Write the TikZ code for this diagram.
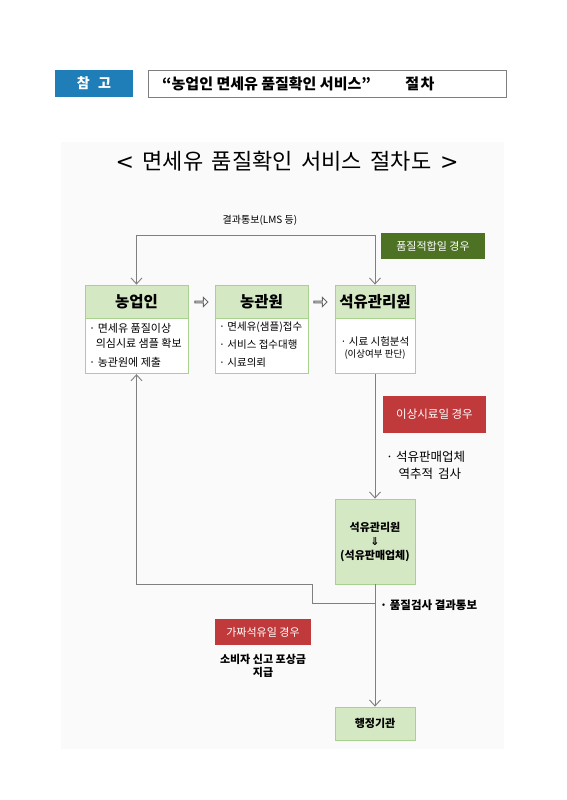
\documentclass[tikz,border=0pt]{standalone}
\usepackage{fontspec}
\setmainfont{Noto Sans CJK KR}
\newfontfamily\djvfont{DejaVu Sans}
\usetikzlibrary{arrows.meta,shapes.arrows}
\definecolor{lgreen}{HTML}{D5E8C4}
\definecolor{bgreen}{HTML}{A9D18E}
\definecolor{dgreen}{HTML}{4E7224}
\definecolor{rred}{HTML}{C0393B}
\definecolor{bblue}{HTML}{1F7DB8}
\definecolor{lgray}{HTML}{7F7F7F}
\definecolor{panelbg}{HTML}{FAFAFA}
\tikzset{
  hdr/.style={draw=bgreen,fill=lgreen,line width=0.8pt,minimum height=33pt,inner sep=0pt,font=\fontsize{15.5}{17}\selectfont\bfseries},
  bodybox/.style={draw=bgreen,fill=white,line width=0.8pt,minimum height=55pt,inner sep=0pt},
  gbox/.style={draw=bgreen,fill=lgreen,line width=0.8pt,inner sep=0pt,font=\fontsize{11}{13}\selectfont\bfseries,align=center},
  tagbox/.style={inner sep=0pt,text=white,font=\fontsize{11}{12}\selectfont},
  wline/.style={draw=lgray,line width=0.9pt},
  arr/.style={wline,-{Straight Barb[length=6pt,width=11pt,line width=0.9pt]}},
  harrow/.style={single arrow,draw=lgray!80!black,line width=0.9pt,fill=white,minimum height=13pt,minimum width=9pt,single arrow head extend=2pt,inner sep=0pt},
  small/.style={font=\fontsize{10.5}{15}\selectfont,align=left,inner sep=0pt}
}
\begin{document}
\begin{tikzpicture}[x=1pt,y=-1pt]
\useasboundingbox (0,0) rectangle (566,800);
\fill[white] (0,0) rectangle (566,800);
% header
\node[fill=bblue,minimum width=78pt,minimum height=27pt,inner sep=0pt,text=white,font=\fontsize{14}{16}\selectfont\bfseries] (cham) at (94,83.5) {참\hspace{0.6em}고};
\node[draw=lgray,line width=0.8pt,minimum width=358pt,minimum height=27pt,inner sep=0pt] (ttlbox) at (327,83.5) {};
\node[anchor=west,inner sep=0pt,font=\fontsize{15}{16}\selectfont\bfseries] (ttl) at (162,83.5) {“농업인 면세유 품질확인 서비스”\hspace{2.3em}절\hspace{0.1em}차};
% panel
\fill[panelbg] (61,142) rectangle (504,749);
\node[font=\fontsize{22}{24}\selectfont,inner sep=0pt] (mt) at (287,161) {{\djvfont <}\, 면세유\, 품질확인\, 서비스\, 절차도 \,{\djvfont >}};
\node[font=\fontsize{10}{11}\selectfont,inner sep=0pt] (lms) at (260,220) {결과통보(LMS 등)};
\node[tagbox,fill=dgreen,minimum width=104pt,minimum height=26pt] (ok) at (433,246) {품질적합일 경우};
% row boxes
\node[hdr,minimum width=103pt] (fh) at (136.5,301.5) {농업인};
\node[bodybox,minimum width=103pt,anchor=north] (fb) at (fh.south) {};
\node[hdr,minimum width=93pt] (nh) at (261.5,301.5) {농관원};
\node[bodybox,minimum width=93pt,anchor=north] (nb) at (nh.south) {};
\node[hdr,minimum width=80pt] (kh) at (375,301.5) {석유관리원};
\node[bodybox,minimum width=80pt,anchor=north] (kb) at (kh.south) {};
\node[small,anchor=north west,font=\fontsize{11}{15.5}\selectfont] (ft) at (89,323) {· 면세유 품질이상\\\hspace{0.6em}의심시료 샘플 확보\\[3pt]· 농관원에 제출};
\node[small,anchor=north west,font=\fontsize{10.5}{18}\selectfont] (nt) at (219,322) {· 면세유(샘플)접수\\· 서비스 접수대행\\· 시료의뢰};
\node[small,anchor=center,align=center,font=\fontsize{10.5}{12.5}\selectfont] (kt) at (375,348) {· 시료 시험분석\\{\fontsize{9.5}{12}\selectfont(이상여부 판단)}};
\node[harrow] (a1) at (201,302) {};
\node[harrow] (a2) at (320,302) {};
% top loop
\coordinate (tl) at (fh.north |- 0,235);
\coordinate (tr) at (kh.north |- 0,235);
\draw[wline] (tl) -- (tr);
\draw[arr] (tl) -- (fh.north);
\draw[arr] (tr) -- (kh.north);
% right column
\node[tagbox,fill=rred,minimum width=103pt,minimum height=37pt,font=\fontsize{11.5}{12}\selectfont] (bad) at (434.5,414.5) {이상시료일 경우};
\node[small,anchor=north west,font=\fontsize{12.5}{17}\selectfont] (trace) at (386,451) {· 석유판매업체\\\hspace{1em}역추적\, 검사};
\node[gbox,minimum width=80pt,minimum height=85pt] (mid) at (375,541.5) {석유관리원\\[1pt]{\djvfont\fontsize{11}{13}\selectfont ⇓}\\[1pt](석유판매업체)};
\node[gbox,minimum width=80pt,minimum height=33pt] (gov) at (375,723.5) {행정기관};
\draw[arr] (kb.south) -- (mid.north);
\draw[arr] (mid.south) -- (gov.north);
% return loop
\coordinate (j) at (mid.south |- 0,603);
\coordinate (c1) at (312,603);
\coordinate (c2) at (312,584);
\draw[arr] (j) -- (c1) -- (c2) -| (fb.south);
\node[anchor=west,inner sep=0pt,font=\fontsize{11.5}{12}\selectfont\bfseries] (res) at (380,605) {· 품질검사 결과통보};
\node[tagbox,fill=rred,minimum width=96pt,minimum height=26pt] (fake) at (263,632) {가짜석유일 경우};
\node[inner sep=0pt,align=center,font=\fontsize{11}{12.5}\selectfont\bfseries] (rew) at (263,666) {소비자 신고 포상금\\지급};
\end{tikzpicture}
\end{document}
